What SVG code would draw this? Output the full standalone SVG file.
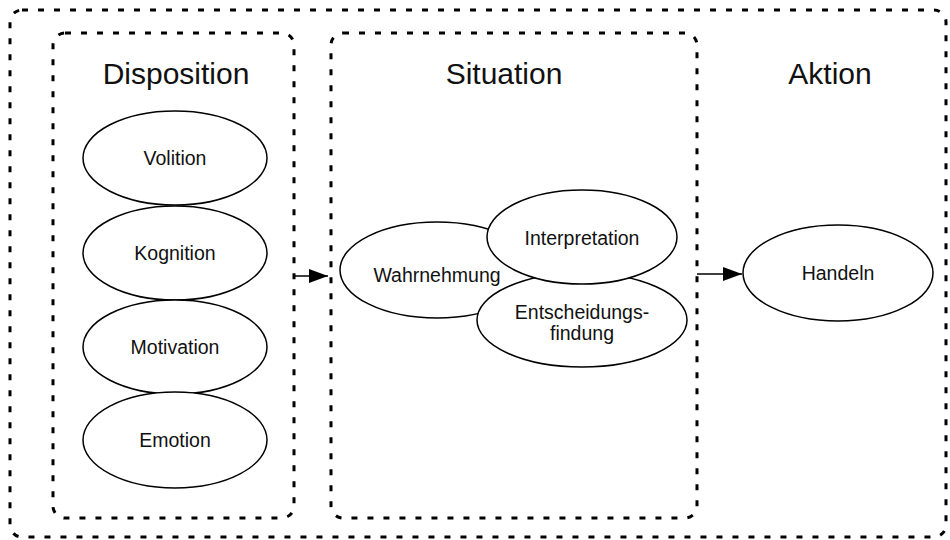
<svg xmlns="http://www.w3.org/2000/svg" width="950" height="540" viewBox="0 0 950 540">
<defs>
<style>
.box{fill:none;stroke:#000;stroke-width:3;stroke-dasharray:6 10;stroke-linecap:butt}
.ell{fill:#fff;stroke:#000;stroke-width:1.5}
.lbl{font-family:"Liberation Sans",Arial,sans-serif;font-size:19.5px;fill:#111;text-anchor:middle}
.title{font-family:"Liberation Sans",Arial,sans-serif;font-size:30px;fill:#111;text-anchor:middle}
.conn{stroke:#000;stroke-width:1.5;fill:none}
</style>
<marker id="arr" markerWidth="19" markerHeight="14" refX="19" refY="7" orient="auto" markerUnits="userSpaceOnUse">
<path d="M0,0 L19,7 L0,14 Z" fill="#000"/>
</marker>
</defs>
<rect width="950" height="540" fill="#fff"/>
<g id="outer"><rect class="box" x="10" y="10" width="936" height="527" rx="12"/></g>
<g id="disposition">
<rect class="box" x="53" y="33" width="241" height="485" rx="12"/>
<text class="title" x="176" y="84">Disposition</text>
</g>
<g id="situation">
<rect class="box" x="331" y="33" width="366" height="485" rx="12"/>
<text class="title" x="504" y="84">Situation</text>
</g>
<g id="aktion"><text class="title" x="830" y="84">Aktion</text></g>
<g id="volition"><ellipse class="ell" cx="175" cy="158" rx="92" ry="47"/><text class="lbl" x="175" y="165">Volition</text></g>
<g id="kognition"><ellipse class="ell" cx="175" cy="253" rx="92" ry="47"/><text class="lbl" x="175" y="260">Kognition</text></g>
<g id="motivation"><ellipse class="ell" cx="175" cy="347" rx="92" ry="47"/><text class="lbl" x="175" y="354">Motivation</text></g>
<g id="emotion"><ellipse class="ell" cx="175" cy="440" rx="92" ry="48"/><text class="lbl" x="175" y="447">Emotion</text></g>
<g id="wahrnehmung"><ellipse class="ell" cx="437" cy="270" rx="97" ry="48"/><text class="lbl" x="437" y="282">Wahrnehmung</text></g>
<g id="entscheidungsfindung"><ellipse class="ell" cx="582" cy="320" rx="105" ry="47"/><text class="lbl" x="582" y="319">Entscheidungs-</text><text class="lbl" x="582" y="340">findung</text></g>
<g id="interpretation"><ellipse class="ell" cx="582" cy="237" rx="95" ry="47"/><text class="lbl" x="582" y="245">Interpretation</text></g>
<g id="handeln"><ellipse class="ell" cx="838" cy="273" rx="95" ry="48"/><text class="lbl" x="838" y="280">Handeln</text></g>
<g id="connectors">
<line class="conn" x1="294" y1="276" x2="328" y2="276" marker-end="url(#arr)"/>
<line class="conn" x1="697" y1="274" x2="742" y2="274" marker-end="url(#arr)"/>
</g>
</svg>
